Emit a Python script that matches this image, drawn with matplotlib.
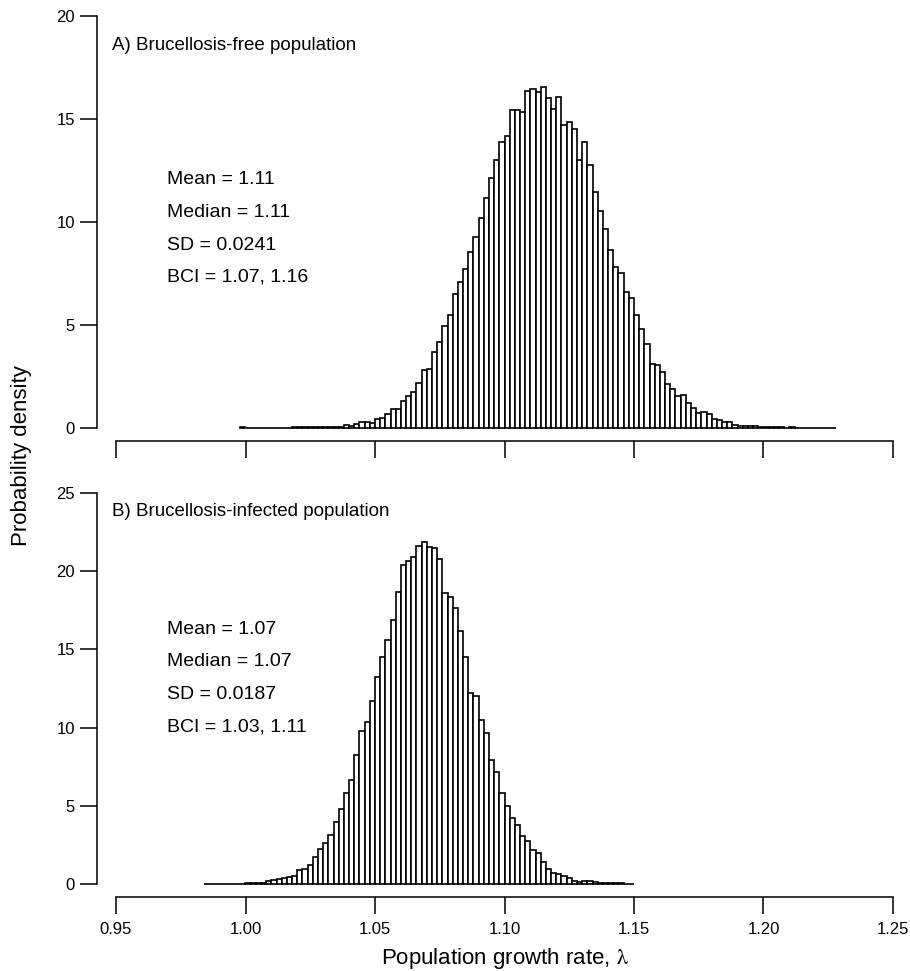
import numpy as np
import matplotlib
matplotlib.use("Agg")
import matplotlib.pyplot as plt

plt.rcParams['font.family'] = ['Liberation Sans', 'DejaVu Sans']
plt.rcParams['mathtext.fontset'] = 'stix'

bin_width = 0.002

# Panel A: Brucellosis-free population (bins start at 0.998)
a_start = 0.998
a_density = [
    0.03, 0.0, 0.0, 0.005, 0.0, 0.005, 0.01, 0.01, 0.01, 0.01,
    0.03, 0.03, 0.04, 0.03, 0.03, 0.04, 0.05, 0.04, 0.05, 0.06,
    0.15, 0.08, 0.21, 0.28, 0.29, 0.24, 0.45, 0.50, 0.70, 0.94,
    0.94, 1.31, 1.54, 1.75, 2.18, 2.80, 2.85, 3.69,
    4.19, 4.95, 5.49, 6.5, 7.09, 7.72, 8.54, 9.27, 10.2, 11.18,
    12.14, 13.0, 13.87, 14.17, 15.44, 15.42, 15.34, 16.37, 16.45, 16.33,
    16.54, 16.0, 15.47, 16.08, 14.7, 14.87, 14.51, 13.0, 13.9, 12.77,
    11.47, 10.55, 9.66, 8.64, 7.83, 7.51, 6.6, 6.3, 5.47, 4.79,
    4.06, 3.1, 3.06, 2.7, 2.14,
    1.91, 1.55, 1.59, 1.20, 0.95, 0.74, 0.78, 0.66, 0.42, 0.39,
    0.31, 0.31, 0.15, 0.10, 0.11, 0.10, 0.08, 0.05, 0.06, 0.04,
    0.03, 0.04, 0.02, 0.03, 0.02, 0.01, 0.02, 0.01, 0.02, 0.01,
    0.02, 0.01,
]

# Panel B: Brucellosis-infected population (bins start at 0.984)
b_start = 0.984
b_density = [
    0.02, 0.01, 0.02, 0.03, 0.02, 0.02, 0.03, 0.02, 0.04, 0.05,
    0.04, 0.08,
    0.17, 0.28, 0.35, 0.39, 0.43, 0.48, 0.87, 0.98, 1.24, 1.74,
    2.22, 2.65, 3.15, 3.98, 4.78, 5.83, 6.67, 8.26, 9.78, 10.37,
    11.67, 13.26, 14.52, 15.59, 16.85, 18.7, 20.37, 20.65, 20.93, 21.63,
    21.85, 21.52, 21.46, 20.8, 18.59, 18.33, 17.65, 16.2, 14.52, 12.24,
    12.02, 10.5, 9.67, 7.93, 7.17, 5.83, 5.0, 4.24, 3.8, 3.09,
    2.72, 2.17, 1.96, 1.41, 0.93, 0.72, 0.61, 0.5, 0.39, 0.22,
    0.15, 0.17, 0.22, 0.11, 0.07, 0.07, 0.04, 0.07, 0.04, 0.02,
    0.02,
]

a_title = "A) Brucellosis-free population"
b_title = "B) Brucellosis-infected population"
a_stats = ["Mean = 1.11", "Median = 1.11", "SD = 0.0241", "BCI = 1.07, 1.16"]
b_stats = ["Mean = 1.07", "Median = 1.07", "SD = 0.0187", "BCI = 1.03, 1.11"]

x_ticks = [0.95, 1.00, 1.05, 1.10, 1.15, 1.20, 1.25]
x_ticklabels = ["0.95", "1.00", "1.05", "1.10", "1.15", "1.20", "1.25"]
a_yticks = [0, 5, 10, 15, 20]
b_yticks = [0, 5, 10, 15, 20, 25]

W, H = 910, 971
fig = plt.figure(figsize=(W / 100, H / 100), dpi=100)


def fx(px):
    return px / W


def fy(py):
    return 1 - py / H


px_per_unit_x = 777 / 0.3
x_left_px, x_right_px = 97, 900
xlim = (0.95 - (116 - x_left_px) / px_per_unit_x,
        1.25 + (x_right_px - 893) / px_per_unit_x)


def make_axes(top_px, zero_px, bottom_px, ymax):
    ax = fig.add_axes([fx(x_left_px), fy(bottom_px),
                       fx(x_right_px) - fx(x_left_px), fy(top_px) - fy(bottom_px)])
    ppu = (zero_px - top_px) / ymax
    ax.set_xlim(*xlim)
    ax.set_ylim(-(bottom_px - zero_px) / ppu, ymax)
    for s in ['top', 'right']:
        ax.spines[s].set_visible(False)
    for s in ['left', 'bottom']:
        ax.spines[s].set_linewidth(1.1)
    ax.spines['bottom'].set_bounds(0.95, 1.25)
    ax.spines['left'].set_bounds(0, ymax)
    ax.tick_params(axis='both', direction='out', length=12, width=1.1,
                   labelsize=12, colors='black')
    ax.tick_params(axis='y', pad=4)
    ax.tick_params(axis='x', pad=6)
    ax.set_xticks(x_ticks)
    return ax


def draw_hist(ax, start, dens):
    dens = np.asarray(dens, dtype=float)
    edges = start + bin_width * np.arange(len(dens) + 1)
    centers = (edges[:-1] + edges[1:]) / 2
    ax.hist(centers, bins=edges, weights=dens, histtype='bar',
            facecolor='white', edgecolor='black', linewidth=1.2)


axA = make_axes(16, 428, 441, 20)
draw_hist(axA, a_start, a_density)
axA.set_yticks(a_yticks)
axA.set_xticklabels([])

axB = make_axes(493, 884, 897, 25)
draw_hist(axB, b_start, b_density)
axB.set_yticks(b_yticks)
axB.set_xticklabels(x_ticklabels)

fig.text(fx(112), fy(45), a_title, fontsize=13.5, va='center', ha='left')
fig.text(fx(112), fy(511), b_title, fontsize=13.5, va='center', ha='left')

for i, s in enumerate(a_stats):
    fig.text(fx(167), fy(180 + 32.5 * i), s, fontsize=14, va='center', ha='left')
for i, s in enumerate(b_stats):
    fig.text(fx(167), fy(629 + 32.7 * i), s, fontsize=14, va='center', ha='left')

fig.text(fx(505), fy(958), r"Population growth rate, $\mathrm{\lambda}$", fontsize=16,
         ha='center', va='center')
fig.text(fx(22), fy(456), "Probability density", fontsize=16, rotation=90,
         ha='center', va='center')

fig.savefig("out.png", dpi=100)
